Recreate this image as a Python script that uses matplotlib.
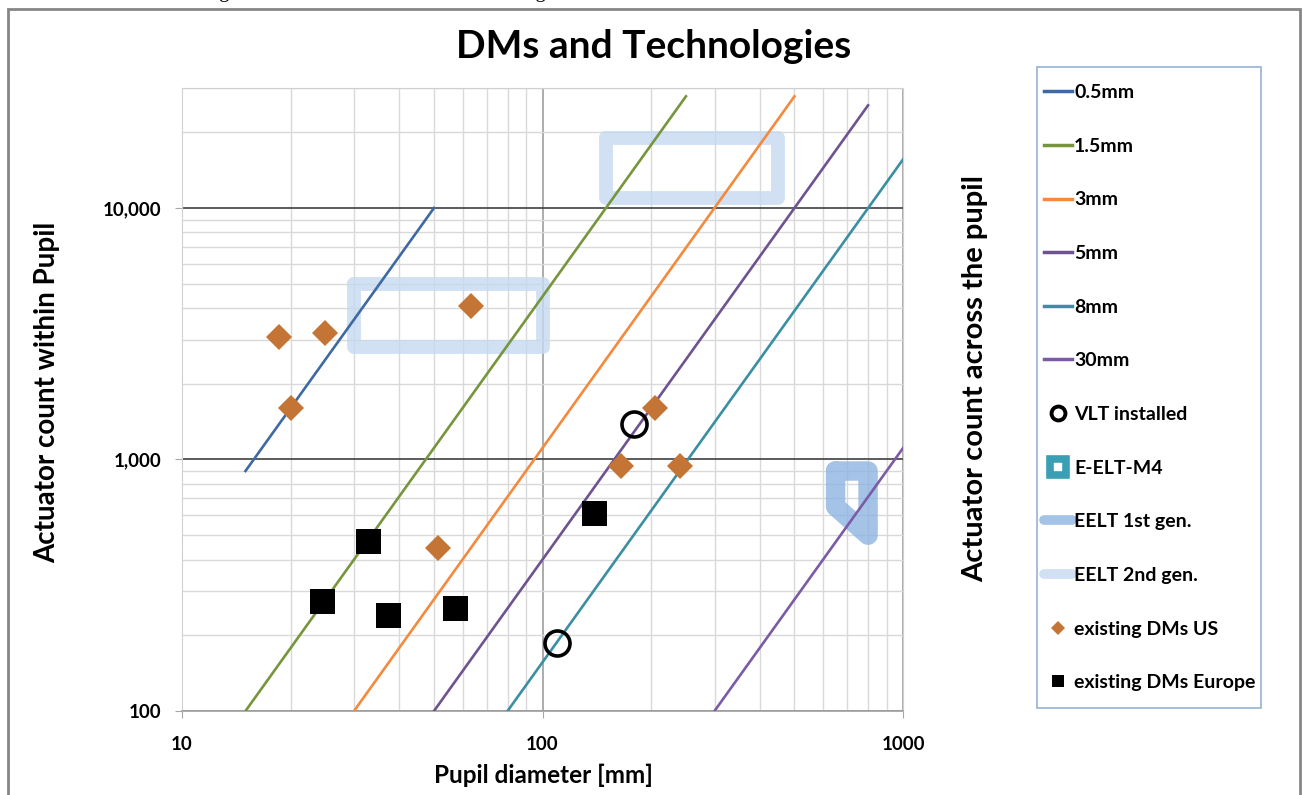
import matplotlib
matplotlib.use('Agg')
import matplotlib.pyplot as plt
from matplotlib.lines import Line2D
from matplotlib.patches import Rectangle
from matplotlib.ticker import FixedLocator, NullFormatter, LogLocator

plt.rcParams['font.family'] = ['Lato', 'DejaVu Sans']
plt.rcParams['font.weight'] = 'bold'

# pitch lines: end points (pupil diameter [mm], actuator count)
pitch_labels = ['0.5mm', '1.5mm', '3mm', '5mm', '8mm', '30mm']
pitch_x = [[15, 50], [15, 250], [30, 500], [50, 800], [80, 1000], [300, 1000]]
pitch_y = [[900, 10000], [100, 27800], [100, 27800], [100, 25600], [100, 15600], [100, 1110]]
pitch_colors = ['#3E6AA3', '#77953D', '#F38A3C', '#6E5391', '#3A8FA3', '#7B5BA5']

# VLT installed
vlt_x = [179, 110]
vlt_y = [1380, 186]

# EELT outlines
eelt1_x = [650, 800, 800, 650, 650]
eelt1_y = [900, 900, 500, 650, 900]
eelt2a_x = [30, 100, 100, 30, 30]
eelt2a_y = [5000, 5000, 2800, 2800, 5000]
eelt2b_x = [150, 450, 450, 150, 150]
eelt2b_y = [19000, 19000, 11000, 11000, 19000]

# existing DMs
us_x = [18.6, 24.9, 20, 63.5, 51.4, 165, 205, 240]
us_y = [3080, 3190, 1600, 4090, 444, 946, 1608, 938]
eu_x = [32.9, 24.5, 37.3, 57.3, 139]
eu_y = [473, 275, 240, 256, 611]

W, H = 1303, 795
fig = plt.figure(figsize=(W/100, H/100), dpi=100)
ax = fig.add_axes([182/W, 1-711/H, (903-182)/W, (711-88)/H])

for xs, ys, c in zip(pitch_x, pitch_y, pitch_colors):
    ax.plot(xs, ys, color=c, lw=1.9, zorder=3)

ax.plot(eelt1_x, eelt1_y, color='#8DB4E2', alpha=0.8, lw=14, solid_joinstyle='round',
        solid_capstyle='round', zorder=2)
for xs, ys in [(eelt2a_x, eelt2a_y), (eelt2b_x, eelt2b_y)]:
    ax.plot(xs, ys, color='#C6D9F1', alpha=0.8, lw=10, solid_joinstyle='round',
            solid_capstyle='round', zorder=2)

ax.plot(vlt_x, vlt_y, 'o', ms=18, mfc='none', mec='black', mew=2.6, zorder=4)
ax.plot(us_x, us_y, 'D', ms=13, color='#C47535', mew=0, zorder=5)
ax.plot(eu_x, eu_y, 's', ms=18, color='black', mew=0, zorder=5)

ax.set_xscale('log')
ax.set_yscale('log')
ax.set_xlim(10, 1000)
ax.set_ylim(100, 30000)

ax.yaxis.set_major_locator(FixedLocator([100, 1000, 10000]))
ax.set_yticklabels(['100', '1,000', '10,000'])
ax.xaxis.set_major_locator(FixedLocator([10, 100, 1000]))
ax.set_xticklabels(['10', '100', '1000'])
ax.xaxis.set_minor_locator(LogLocator(base=10, subs=range(2, 10)))
ax.yaxis.set_minor_locator(LogLocator(base=10, subs=range(2, 10)))
ax.xaxis.set_minor_formatter(NullFormatter())
ax.yaxis.set_minor_formatter(NullFormatter())
ax.tick_params(which='minor', length=0)
ax.tick_params(which='major', length=5, color='#A6A6A6', labelsize=13.5)
ax.tick_params(axis='x', pad=13)
ax.tick_params(axis='y', pad=10)

ax.grid(which='minor', color='#D9D9D9', lw=1)
ax.grid(axis='x', which='major', color='#A6A6A6', lw=1.3)
ax.grid(axis='y', which='major', color='#404040', lw=1.2)
ax.set_axisbelow(True)
for s in ['left', 'top', 'right']:
    ax.spines[s].set_color('#D0D0D0')
ax.spines['bottom'].set_color('#A6A6A6')
ax.spines['bottom'].set_linewidth(1.3)

fig.text(543/W, 1-775/H, 'Pupil diameter [mm]', fontsize=17.5, weight='bold',
         ha='center', va='center')
fig.text(47/W, 1-392/H, 'Actuator count within Pupil', fontsize=20, weight='bold',
         rotation=90, ha='center', va='center')
fig.text(975/W, 1-379/H, 'Actuator count across the pupil', fontsize=21, weight='bold',
         rotation=90, ha='center', va='center')
fig.text(654/W, 1-47/H, 'DMs and Technologies', fontsize=28, weight='bold',
         ha='center', va='center')

# legend
handles = [Line2D([], [], color=c, lw=2.5) for c in pitch_colors]
handles += [
    Line2D([], [], ls='none', marker='o', ms=10, mfc='none', mec='black', mew=2.8),
    Line2D([], [], ls='none', marker='s', ms=11, mfc='white', mec='#3A9FB5', mew=5.5),
    Line2D([], [], color='#8DB4E2', alpha=0.8, lw=7, solid_capstyle='round'),
    Line2D([], [], color='#C6D9F1', alpha=0.8, lw=7, solid_capstyle='round'),
    Line2D([], [], ls='none', marker='D', ms=7, color='#C47535', mew=0),
    Line2D([], [], ls='none', marker='s', ms=9, color='black', mew=0),
]
labels = pitch_labels + ['VLT installed', 'E-ELT-M4', 'EELT 1st gen.', 'EELT 2nd gen.',
                         'existing DMs US', 'existing DMs Europe']
fig.legend(handles, labels, loc='upper left', bbox_to_anchor=(1044/W, 1-84/H),
           frameon=False, fontsize=14, handlelength=1.45, handletextpad=0.1,
           labelspacing=1.885, borderpad=0, borderaxespad=0)
fig.patches.append(Rectangle((1037/W, 1-708/H), (1261-1037)/W, (708-67)/H,
                             transform=fig.transFigure, fill=False, ec='#95B3D7', lw=1.2))

# outer chart frame
fig.patches.append(Rectangle((8/W, -0.01), (1300-8)/W, 1.01-9/H,
                             transform=fig.transFigure, fill=False, ec='#868686', lw=2))

# clipped line of text from the page above the chart
fig.text(0.005, 1+3/H, 'actuators count in the range from 1000 to 5000 actuators. Change in the number of actuators.',
         fontsize=15, family='Liberation Serif', weight='normal', va='baseline', ha='left')

fig.savefig('out.png', dpi=100)
